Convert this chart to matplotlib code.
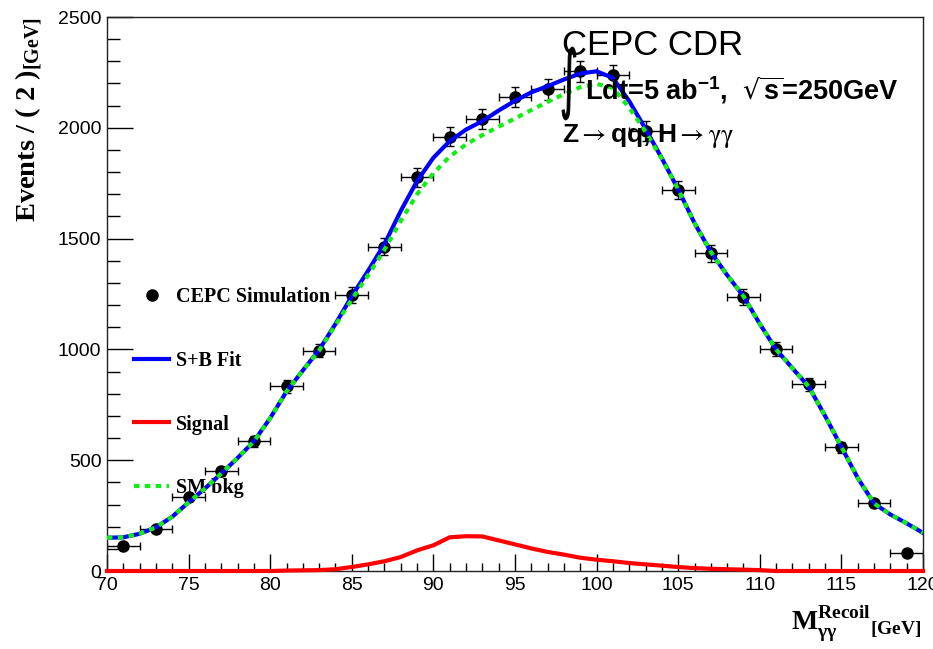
import numpy as np
import matplotlib
matplotlib.use("Agg")
import matplotlib.pyplot as plt
from matplotlib.ticker import MultipleLocator
from matplotlib.lines import Line2D
from matplotlib.textpath import TextPath
from matplotlib.patches import PathPatch
from matplotlib.font_manager import FontProperties
from matplotlib.transforms import Affine2D

# binned recoil mass, 2 GeV bins
bin_centers = [71, 73, 75, 77, 79, 81, 83, 85, 87, 89, 91, 93, 95, 97, 99,
               101, 103, 105, 107, 109, 111, 113, 115, 117, 119]
counts = [111, 190, 333, 450, 586, 834, 995, 1245, 1463, 1776, 1960, 2038,
          2140, 2173, 2255, 2238, 1985, 1719, 1434, 1237, 1000, 843, 558,
          307, 80]

# fitted curves sampled every 1 GeV
mass_grid = list(range(70, 121))
fit_total = [150, 152, 168, 197, 245, 310, 372, 440, 510, 585,
             690, 810, 905, 998, 1115, 1240, 1355, 1475, 1625, 1760,
             1865, 1940, 1992, 2030, 2078, 2122, 2160, 2188, 2218, 2245,
             2255, 2225, 2120, 1995, 1862, 1722, 1570, 1440, 1335, 1240,
             1115, 1000, 915, 832, 700, 560, 420, 305, 255, 215, 172]
sm_bkg = [150, 152, 168, 197, 245, 310, 372, 440, 510, 585,
          690, 810, 905, 995, 1110, 1225, 1335, 1450, 1580, 1700,
          1795, 1870, 1925, 1967, 2005, 2042, 2080, 2117, 2152, 2183,
          2198, 2180, 2090, 1982, 1860, 1722, 1570, 1440, 1335, 1240,
          1115, 1000, 915, 832, 700, 560, 420, 305, 255, 215, 172]
signal = [0, 0, 0, 0, 0, 0, 0, 0, 0, 0,
          0, 2, 3, 4, 8, 18, 30, 44, 63, 93,
          116, 152, 157, 156, 138, 120, 102, 86, 74, 60,
          51, 44, 36, 30, 24, 18, 13, 10, 8, 6,
          4, 0, 0, 0, 0, 0, 0, 0, 0, 0, 0]

W, H = 933, 649
fig = plt.figure(figsize=(W / 100, H / 100), dpi=100)
ax = fig.add_axes([107 / W, 1 - 571 / H, 816 / W, 554 / H])

yerr = np.sqrt(counts)
ax.errorbar(bin_centers, counts, xerr=1, yerr=yerr, fmt='o', color='black',
            ms=8, capsize=3, elinewidth=1, capthick=1, zorder=2)
ax.plot(mass_grid, fit_total, color='#0000ff', lw=3, zorder=3)
ax.plot(mass_grid, signal, color='#ff0000', lw=3, zorder=4, clip_on=False)
ax.plot(mass_grid, sm_bkg, color='#11ee11', lw=3, ls=(0, (1.3, 1.3)),
        zorder=5)

ax.set_xlim(70, 120)
ax.set_ylim(0, 2500)
ax.xaxis.set_major_locator(MultipleLocator(5))
ax.xaxis.set_minor_locator(MultipleLocator(1))
ax.yaxis.set_major_locator(MultipleLocator(500))
ax.yaxis.set_minor_locator(MultipleLocator(100))
ax.tick_params(axis='x', which='major', direction='in', length=12, width=1)
ax.tick_params(axis='x', which='minor', direction='in', length=6, width=1)
ax.tick_params(axis='y', which='major', direction='in', length=19, width=1)
ax.tick_params(axis='y', which='minor', direction='in', length=9.5, width=1)
ax.tick_params(axis='both', which='major', labelsize=14, pad=4)
for lab in ax.get_xticklabels() + ax.get_yticklabels():
    lab.set_family('Liberation Sans')
for s in ax.spines.values():
    s.set_linewidth(1)
    s.set_color('#222222')

# axis titles
fig.text(30 / W, 1 - 17 / H, r'Events / ( 2 )$_{\mathdefault{[GeV]}}$',
         rotation=90, ha='center', va='top', fontsize=20.5,
         family='Liberation Serif', weight='bold')
fig.text(922 / W, 1 - 630 / H,
         r'M$_{\mathdefault{γγ}}^{\mathdefault{Recoil}}{}_{\mathdefault{[GeV]}}$',
         ha='right', va='baseline', fontsize=20,
         family='Liberation Serif', weight='bold')

# legend
handles = [Line2D([], [], ls='none', marker='o', color='black', ms=8),
           Line2D([], [], color='#0000ff', lw=3),
           Line2D([], [], color='#ff0000', lw=3),
           Line2D([], [], color='#11ee11', lw=3, ls=(0, (1.3, 1.3)))]
labels = ['CEPC Simulation', 'S+B Fit', 'Signal', 'SM bkg']
leg = ax.legend(handles, labels, loc='upper left', frameon=False,
                bbox_to_anchor=(116 / W, 1 - 269 / H),
                bbox_transform=fig.transFigure,
                prop={'family': 'Liberation Serif', 'weight': 'bold',
                      'size': 14.5},
                handlelength=1.75, handletextpad=0.35, labelspacing=2.17)
leg.set_zorder(1)

# labels in the top right
fig.text(562 / W, 1 - 55 / H, 'CEPC CDR', fontsize=25,
         family='Liberation Sans', va='baseline', zorder=10)

# tall narrow integral sign, squeezed into its box in pixel units
tp = TextPath((0, 0), '∫', size=50, prop=FontProperties(family='DejaVu Sans'))
bb = tp.get_extents()
x0, y0, bw, bh = 562, H - 120, 14, 73
int_tr = (Affine2D().translate(-bb.x0, -bb.y0)
          .scale(bw / bb.width, bh / bb.height).translate(x0, y0))
fig.add_artist(PathPatch(int_tr.transform_path(tp), color='black', lw=0.6,
                         transform=None, zorder=10))

fig.text(585 / W, 1 - 100 / H,
         r'Ldt=5 ab$^{\mathdefault{-1}}$,  $\sqrt{\mathdefault{s}}$=250GeV',
         fontsize=19.5, family='Liberation Sans', weight='bold',
         math_fontfamily='dejavusans', va='baseline', zorder=10)
fig.text(562 / W, 1 - 142 / H,
         r'Z$\rightarrow$qq, H$\rightarrow\mathrm{\gamma\gamma}$',
         fontsize=19, family='Liberation Sans', weight='bold',
         math_fontfamily='stix', va='baseline', zorder=10)

fig.savefig('out.png', dpi=100)
